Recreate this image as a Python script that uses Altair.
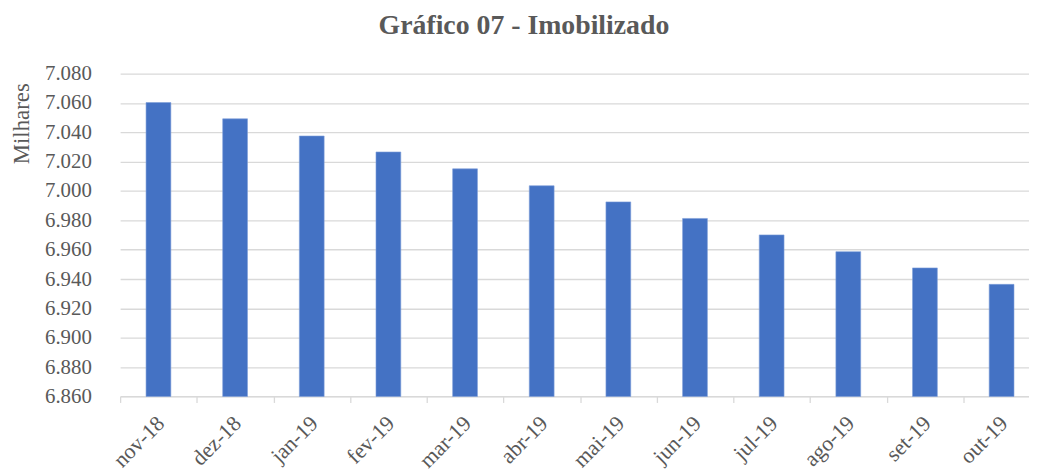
import altair as alt
import pandas as pd

months = ["nov-18", "dez-18", "jan-19", "fev-19", "mar-19", "abr-19",
          "mai-19", "jun-19", "jul-19", "ago-19", "set-19", "out-19"]
values = [7060.3, 7049.2, 7037.5, 7026.6, 7015.1, 7003.6,
          6992.6, 6981.3, 6970.1, 6958.7, 6947.6, 6936.4]
y_ticks = [6860, 6880, 6900, 6920, 6940, 6960, 6980, 7000, 7020, 7040, 7060, 7080]

df = pd.DataFrame({"mes": months, "valor": values})

FONT = "Liberation Serif"
GRAY = "#595959"
LINE = "#d9d9d9"

chart = (
    alt.Chart(df)
    .mark_bar(color="#4472C4", size=25, stroke="#7f9fd8", strokeWidth=0.6)
    .encode(
        x=alt.X(
            "mes:N",
            sort=months,
            scale=alt.Scale(range=[0, 927], paddingInner=0, paddingOuter=0),
            axis=alt.Axis(
                title=None,
                labelAngle=-45,
                labelAlign="right",
                labelBaseline="middle",
                labelFont=FONT,
                labelFontSize=22,
                labelColor=GRAY,
                labelPadding=17,
                labelOffset=2,
                ticks=True,
                tickBand="extent",
                tickSize=6,
                tickColor=LINE,
                tickWidth=1.3,
                domain=True,
                domainColor=LINE,
                domainWidth=1.3,
                grid=False,
            ),
        ),
        y=alt.Y(
            "valor:Q",
            scale=alt.Scale(domain=[6860, 7080], zero=False, nice=False),
            axis=alt.Axis(
                values=y_ticks,
                labelExpr="replace(format(datum.value, ',.0f'), ',', '.')",
                title="Milhares",
                titleAngle=-90,
                titleX=-92,
                titleY=50,
                titleAlign="center",
                titleBaseline="alphabetic",
                titleFont=FONT,
                titleFontSize=23,
                titleFontWeight="normal",
                titleColor=GRAY,
                labelFont=FONT,
                labelFontSize=21,
                labelColor=GRAY,
                labelPadding=29,
                ticks=False,
                domain=False,
                grid=True,
                gridColor=LINE,
                gridWidth=1.3,
            ),
        ),
        y2=alt.datum(6860),
    )
    .properties(
        width=916,
        height=325.4,
        autosize=alt.AutoSizeParams(type="none"),
        padding={"left": 113, "top": 64.3, "right": 0, "bottom": 78},
        title=alt.TitleParams(
            "Gráfico 07 - Imobilizado",
            font=FONT,
            fontSize=28,
            fontWeight="bold",
            color=GRAY,
            anchor="middle",
            dx=-51,
            offset=23,
        ),
    )
    .configure_view(stroke=None)
)

chart.save("out.html", embed_options={"renderer": "svg", "actions": False})
